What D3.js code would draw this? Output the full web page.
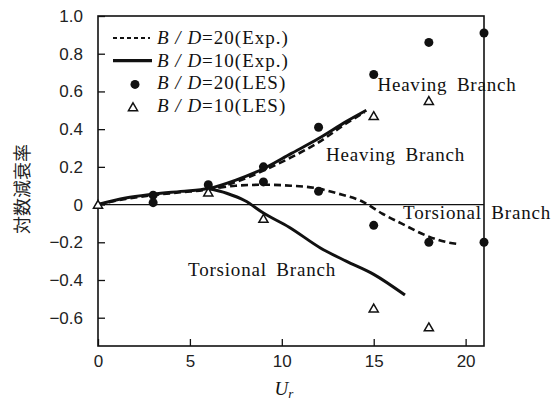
<!DOCTYPE html>
<html>
<head>
<meta charset="utf-8">
<script src="https://cdn.jsdelivr.net/npm/d3@7"></script>
<style>
  body { margin: 0; background: #fff; }
  svg { display: block; }
  .tick text { font-family: "Liberation Sans", Arial, sans-serif; font-size: 17px; fill: #222; }
  .tick line { stroke: #111; stroke-width: 1.3; }
  .serif { font-family: "Liberation Serif", "Times New Roman", serif; fill: #111; }
</style>
</head>
<body>
<div id="chart"></div>
<script>
// B/D=20 experiment (dashed) — heaving and torsional branches, [Ur, log decrement]
const exp20Heaving = [[0, 0], [1.5, 0.03], [3, 0.05], [4.5, 0.065], [6, 0.08], [7.5, 0.12], [9, 0.18], [10.5, 0.25], [12, 0.33], [13.5, 0.43], [14.5, 0.49]];
const exp20Torsional = [[6, 0.08], [7.5, 0.1], [9, 0.105], [10.5, 0.1], [12, 0.085], [13, 0.06], [14.4, 0.015], [15.5, -0.05], [16.5, -0.1], [18, -0.17], [19, -0.2], [19.7, -0.21]];
// B/D=10 experiment (solid)
const exp10Heaving = [[0, 0], [1.5, 0.035], [3, 0.055], [4.5, 0.07], [6, 0.085], [7.5, 0.13], [9, 0.19], [10.5, 0.27], [12, 0.35], [13.5, 0.44], [14.6, 0.5]];
const exp10Torsional = [[6, 0.085], [7, 0.06], [8, 0.02], [9, -0.045], [10.4, -0.12], [12.1, -0.23], [13.5, -0.3], [15, -0.37], [16.7, -0.48]];
// LES results
const les20Ur = [3, 3, 6, 9, 9, 12, 12, 15, 15, 18, 18, 21, 21];
const les20Delta = [0.05, 0.01, 0.105, 0.2, 0.12, 0.41, 0.07, 0.69, -0.11, 0.86, -0.2, 0.91, -0.2];
const les10Ur = [0, 6, 9, 15, 15, 18, 18];
const les10Delta = [0, 0.065, -0.075, 0.47, -0.55, 0.55, -0.65];

const xTicks = [0, 5, 10, 15, 20];
const yTicks = [-0.6, -0.4, -0.2, 0, 0.2, 0.4, 0.6, 0.8, 1.0];
const legendLabels = [
  { key: "exp20", ratio: "=20(Exp.)" },
  { key: "exp10", ratio: "=10(Exp.)" },
  { key: "les20", ratio: "=20(LES)" },
  { key: "les10", ratio: "=10(LES)" },
];
const branchLabels = [
  { text: "Heaving Branch", u: 15.2, v: 0.6 },
  { text: "Heaving Branch", u: 12.4, v: 0.23 },
  { text: "Torsional Branch", u: 16.6, v: -0.075 },
  { text: "Torsional Branch", u: 4.9, v: -0.38 },
];

const WIDTH = 559;
const HEIGHT = 403;
const PLOT = { left: 98, right: 484, top: 16, bottom: 346 };

const svg = d3
  .select("#chart")
  .append("svg")
  .attr("width", WIDTH)
  .attr("height", HEIGHT);

const x = d3.scaleLinear().domain([0, 21]).range([PLOT.left, PLOT.right]);
const y = d3.scaleLinear().domain([-0.75, 1.0]).range([PLOT.bottom, PLOT.top]);

const fmtY = (d) => (d === 0 ? "0" : d3.format(".1f")(d).replace("-", "\u2212"));

// axes with inward ticks
svg
  .append("g")
  .attr("transform", `translate(${PLOT.left},0)`)
  .call(d3.axisLeft(y).tickValues(yTicks).tickSize(-7).tickPadding(15).tickFormat(fmtY))
  .call((g) => g.select(".domain").remove());

svg
  .append("g")
  .attr("transform", `translate(0,${PLOT.bottom})`)
  .call(d3.axisBottom(x).tickValues(xTicks).tickSize(-7).tickPadding(9).tickFormat(d3.format("d")))
  .call((g) => g.select(".domain").remove());

// frame
svg
  .append("rect")
  .attr("x", PLOT.left)
  .attr("y", PLOT.top)
  .attr("width", PLOT.right - PLOT.left)
  .attr("height", PLOT.bottom - PLOT.top)
  .attr("fill", "none")
  .attr("stroke", "#111")
  .attr("stroke-width", 1.6);

// zero line
svg
  .append("line")
  .attr("x1", PLOT.left)
  .attr("x2", PLOT.right)
  .attr("y1", y(0))
  .attr("y2", y(0))
  .attr("stroke", "#111")
  .attr("stroke-width", 1.2);

const line = d3
  .line()
  .x((d) => x(d[0]))
  .y((d) => y(d[1]))
  .curve(d3.curveMonotoneX);

[exp20Heaving, exp20Torsional].forEach((series) => {
  svg
    .append("path")
    .datum(series)
    .attr("fill", "none")
    .attr("stroke", "#111")
    .attr("stroke-width", 2.6)
    .attr("stroke-dasharray", "7 4")
    .attr("d", line);
});

[exp10Heaving, exp10Torsional].forEach((series) => {
  svg
    .append("path")
    .datum(series)
    .attr("fill", "none")
    .attr("stroke", "#111")
    .attr("stroke-width", 3)
    .attr("d", line);
});

const triangle = d3.symbol().type(d3.symbolTriangle).size(36);

svg
  .append("g")
  .selectAll("path")
  .data(les10Ur.map((u, i) => [u, les10Delta[i]]))
  .join("path")
  .attr("transform", (d) => `translate(${x(d[0])},${y(d[1]) + 1})`)
  .attr("d", triangle)
  .attr("fill", "#fff")
  .attr("stroke", "#111")
  .attr("stroke-width", 1.5);

svg
  .append("g")
  .selectAll("circle")
  .data(les20Ur.map((u, i) => [u, les20Delta[i]]))
  .join("circle")
  .attr("cx", (d) => x(d[0]))
  .attr("cy", (d) => y(d[1]))
  .attr("r", 4.5)
  .attr("fill", "#111");

// branch labels
svg
  .append("g")
  .selectAll("text")
  .data(branchLabels)
  .join("text")
  .attr("class", "serif")
  .attr("x", (d) => x(d.u))
  .attr("y", (d) => y(d.v))
  .attr("font-size", 19)
  .attr("letter-spacing", 0.8)
  .attr("word-spacing", 4)
  .text((d) => d.text);

// legend
const legend = svg.append("g");
const rowY = (i) => 44 + i * 22.7;

legendLabels.forEach((d, i) => {
  const cy = rowY(i) - 6;
  if (d.key === "exp20") {
    legend.append("line").attr("x1", 113).attr("x2", 150).attr("y1", cy).attr("y2", cy)
      .attr("stroke", "#111").attr("stroke-width", 2).attr("stroke-dasharray", "4 3");
  } else if (d.key === "exp10") {
    legend.append("line").attr("x1", 113).attr("x2", 152).attr("y1", cy).attr("y2", cy)
      .attr("stroke", "#111").attr("stroke-width", 3.2);
  } else if (d.key === "les20") {
    legend.append("circle").attr("cx", 135).attr("cy", cy + 1).attr("r", 4.5).attr("fill", "#111");
  } else {
    legend.append("path").attr("transform", `translate(133,${cy + 2})`).attr("d", triangle)
      .attr("fill", "#fff").attr("stroke", "#111").attr("stroke-width", 1.5);
  }
  const t = legend.append("text").attr("class", "serif").attr("x", 157).attr("y", rowY(i))
    .attr("font-size", 19).attr("letter-spacing", 1);
  t.append("tspan").attr("font-style", "italic").text("B / D");
  t.append("tspan").text(d.ratio);
});

// axis titles
svg
  .append("text")
  .attr("transform", `translate(29,189) rotate(-90)`)
  .attr("text-anchor", "middle")
  .attr("font-family", "'Noto Sans CJK JP', sans-serif")
  .attr("font-size", 18)
  .attr("fill", "#222")
  .text("対数減衰率");

const xTitle = svg
  .append("text")
  .attr("class", "serif")
  .attr("x", 284)
  .attr("y", 395)
  .attr("text-anchor", "middle")
  .attr("font-style", "italic")
  .attr("font-size", 19);
xTitle.append("tspan").text("U");
xTitle.append("tspan").attr("font-size", 13).attr("dy", 3).text("r");
</script>
</body>
</html>
